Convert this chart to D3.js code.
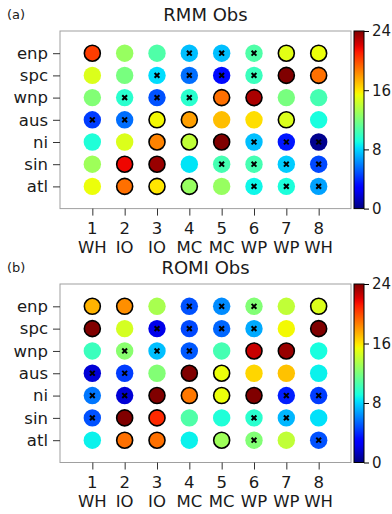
<!DOCTYPE html>
<html>
<head>
<meta charset="utf-8">
<script src="https://cdn.jsdelivr.net/npm/d3@7"></script>
<style>
  body { margin: 0; background: #fff; }
  text { font-family: "DejaVu Sans", sans-serif; fill: #1a1a1a; }
</style>
</head>
<body>
<svg id="chart" width="392" height="514"></svg>
<script>
// regions (rows) and MJO phases (columns)
const regions = ["enp", "spc", "wnp", "aus", "ni", "sin", "atl"];
const phases = [1, 2, 3, 4, 5, 6, 7, 8];
const phaseNames = ["WH", "IO", "IO", "MC", "MC", "WP", "WP", "WH"];
const cbarTicks = [0, 8, 16, 24];

// RMM values, one row per region
const rmmValues = [
    [20.3, 12.8, 10.7, 7.5, 7.5, 10.7, 15.0, 15.3],
    [14.8, 11.9, 8.2, 5.6, 3.2, 10.1, 24.0, 19.0],
    [12.2, 9.6, 4.9, 9.6, 19.0, 23.1, 11.9, 10.4],
    [4.4, 5.6, 15.5, 17.8, 17.0, 16.2, 14.8, 9.1],
    [9.3, 14.8, 18.5, 14.0, 24.0, 7.5, 3.5, 0.3],
    [13.0, 21.7, 23.5, 8.4, 10.4, 10.4, 7.8, 4.7],
    [15.3, 19.0, 16.0, 12.8, 12.8, 8.8, 9.2, 6.8]
];
// O = significantly high (outlined), X = significantly low (cross)
const rmmSig = ["O..XXXOO", "..XXXXOO", ".XXXOO..", "XXOO..O.", "..OOOXXX", ".OO.XXXX", ".OOO.XXX"];

// ROMI values
const romiValues = [
    [17.3, 18.2, 13.3, 4.9, 6.3, 12.2, 14.0, 14.8],
    [24.0, 14.6, 2.2, 4.7, 5.4, 7.0, 15.5, 24.0],
    [10.1, 12.4, 7.5, 5.1, 10.4, 22.5, 23.5, 9.1],
    [1.8, 4.4, 12.2, 24.0, 15.3, 16.4, 16.9, 8.7],
    [5.8, 1.8, 24.0, 18.8, 15.3, 24.0, 3.7, 4.4],
    [4.9, 24.0, 20.8, 10.7, 9.3, 9.6, 7.3, 8.3],
    [8.7, 19.0, 19.0, 8.7, 13.0, 12.2, 14.0, 4.9]
];
const romiSig = ["OO.XXX.O", "O.XXXX.O", ".XXX.OO.", "XX.OO...", "XXOOOOXX", "XOO..XX.", ".OO.OX.X"];

/*
    matplotlib "jet" colour map, built from its segment data
*/
const jetSeg = {
    r: [[0, 0], [0.35, 0], [0.66, 1], [0.89, 1], [1, 0.5]],
    g: [[0, 0], [0.125, 0], [0.375, 1], [0.64, 1], [0.91, 0], [1, 0]],
    b: [[0, 0.5], [0.11, 1], [0.34, 1], [0.65, 0], [1, 0]]
};
function jetChannel(seg, t) {
    for (let i = 1; i < seg.length; i++) {
        if (t <= seg[i][0]) {
            const [x0, y0] = seg[i - 1], [x1, y1] = seg[i];
            return y0 + (y1 - y0) * (t - x0) / (x1 - x0);
        }
    }
    return seg[seg.length - 1][1];
}
function jet(t) {
    t = Math.max(0, Math.min(1, t));
    return d3.rgb(255 * jetChannel(jetSeg.r, t), 255 * jetChannel(jetSeg.g, t),
        255 * jetChannel(jetSeg.b, t)).formatHex();
}
const color = d3.scaleSequential(jet).domain([0, 24]);

const svg = d3.select("#chart");

// gradient for the colour bars
const grad = svg.append("defs").append("linearGradient")
    .attr("id", "jetGrad").attr("x1", 0).attr("y1", 1).attr("x2", 0).attr("y2", 0);
d3.range(0, 1.0001, 0.02).forEach(t => {
    grad.append("stop").attr("offset", t).attr("stop-color", jet(t));
});

const xLeft = 60, xRight = 351;
const x = d3.scaleLinear().domain([0, 9]).range([xLeft, xRight]);

/*
    Function that draws one panel: frame, dots, markers, axes and colour bar
*/
function drawPanel(top, bottom, letter, title, values, sig) {
    const y = d3.scaleLinear().domain([-1, 7]).range([top, bottom]);
    const g = svg.append("g");

    g.append("text").attr("x", 7).attr("y", top - 12).attr("font-size", 13).text(letter);
    g.append("text").attr("x", (xLeft + xRight) / 2).attr("y", top - 10.5)
        .attr("text-anchor", "middle").attr("font-size", 18).text(title);

    g.append("rect").attr("x", xLeft).attr("y", top)
        .attr("width", xRight - xLeft).attr("height", bottom - top)
        .attr("fill", "none").attr("stroke", "#a0a0a0").attr("stroke-width", 1);

    const cells = [];
    values.forEach((row, i) => row.forEach((v, j) => {
        cells.push({ r: i, c: j, v: v, s: sig[i][j] });
    }));

    const dots = g.selectAll(".dot").data(cells).enter().append("g")
        .attr("transform", d => `translate(${x(phases[d.c])},${y(d.r)})`);
    dots.append("circle")
        .attr("r", d => d.s === "O" ? 8 : 8.7)
        .attr("fill", d => color(d.v))
        .attr("stroke", d => d.s === "O" ? "#000" : "none")
        .attr("stroke-width", 1.6);
    dots.filter(d => d.s === "X").append("path")
        .attr("d", "M-2.4,-2.4L2.4,2.4M-2.4,2.4L2.4,-2.4")
        .attr("stroke", "#000").attr("stroke-width", 2);

    // y axis
    const yAxis = g.append("g").attr("transform", `translate(${xLeft},0)`)
        .call(d3.axisLeft(y).tickValues(d3.range(regions.length))
            .tickFormat(i => regions[i]).tickSize(7).tickPadding(5));
    yAxis.select(".domain").remove();
    yAxis.selectAll("text").attr("font-size", 16.5).attr("font-family", "DejaVu Sans")
        .attr("fill", "#1a1a1a");
    yAxis.selectAll("line").attr("stroke", "#333");

    // x axis: phase number and location on two lines
    const xAxis = g.append("g").attr("transform", `translate(0,${bottom})`)
        .call(d3.axisBottom(x).tickValues(phases).tickSize(7).tickFormat(""));
    xAxis.select(".domain").remove();
    xAxis.selectAll("line").attr("stroke", "#333");
    phases.forEach((p, j) => {
        g.append("text").attr("x", x(p)).attr("y", bottom + 25.5)
            .attr("text-anchor", "middle").attr("font-size", 16.5).text(p);
        g.append("text").attr("x", x(p)).attr("y", bottom + 44)
            .attr("text-anchor", "middle").attr("font-size", 16.5).text(phaseNames[j]);
    });

    // colour bar
    const cb = d3.scaleLinear().domain([0, 24]).range([bottom, top]);
    g.append("rect").attr("x", 354).attr("y", top).attr("width", 10)
        .attr("height", bottom - top).attr("fill", "url(#jetGrad)")
        .attr("stroke", "#000").attr("stroke-width", 1);
    const cbAxis = g.append("g").attr("transform", "translate(364,0)")
        .call(d3.axisRight(cb).tickValues(cbarTicks).tickSize(5).tickPadding(3));
    cbAxis.select(".domain").remove();
    cbAxis.selectAll("text").attr("font-size", 15).attr("font-family", "DejaVu Sans")
        .attr("fill", "#1a1a1a");
    cbAxis.selectAll("line").attr("stroke", "#000");
}

drawPanel(31, 208.6, "(a)", "RMM Obs", rmmValues, rmmSig);
drawPanel(284, 462.5, "(b)", "ROMI Obs", romiValues, romiSig);
</script>
</body>
</html>
